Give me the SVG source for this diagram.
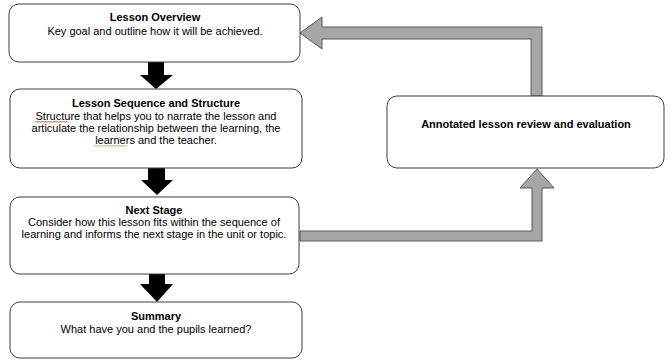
<svg xmlns="http://www.w3.org/2000/svg" width="672" height="360" viewBox="0 0 672 360">
<style>
.box{fill:#fff;stroke:#3f3f3f;stroke-width:1}
.t{font-family:"Liberation Sans",Arial,sans-serif;font-size:11px;fill:#000;text-anchor:middle}
.b{font-weight:bold}
.blk{fill:#000}
.gry{fill:#a6a6a6;stroke:#595959;stroke-width:1}
.sq{fill:none;stroke-width:0.9}
</style>
<rect width="672" height="360" fill="#fff"/>
<g id="connectors">
<path class="blk" d="M148 62H164V75H173L156 89L140 75H148Z"/>
<path class="blk" d="M148 168H165V180H173L157 195L141 180H148Z"/>
<path class="blk" d="M149 274H165V284H173L157 302L140 284H149Z"/>
<path class="gry" d="M531 96V39H322V49L300 33L322 17V27H542V96Z"/>
<path class="gry" d="M300 231H532V188H520L537 169L554 188H542V241H300Z"/>
</g>
<g id="lesson-overview">
<rect class="box" x="9" y="4" width="291" height="58" rx="10"/>
<text class="t b" x="155" y="21">Lesson Overview</text>
<text class="t" x="155" y="35">Key goal and outline how it will be achieved.</text>
</g>
<g id="lesson-sequence">
<rect class="box" x="10" y="89" width="292" height="79" rx="10"/>
<text class="t b" x="156" y="107">Lesson Sequence and Structure</text>
<text class="t" x="156" y="120">Structure that helps you to narrate the lesson and</text>
<text class="t" x="156" y="132">articulate the relationship between the learning, the</text>
<text class="t" x="156" y="144">learners and the teacher.</text>
<path class="sq" stroke="#d9342b" d="M35 122.5l1.5-1.5 1.5 1.5 1.5-1.5 1.5 1.5 1.5-1.5 1.5 1.5 1.5-1.5 1.5 1.5 1.5-1.5 1.5 1.5 1.5-1.5 1.5 1.5 1.5-1.5 1.5 1.5 1.5-1.5 1.5 1.5 1.5-1.5 1.5 1.5 1.5-1.5 1.5 1.5 1.5-1.5 1.5 1.5"/>
<path class="sq" stroke="#c0a040" d="M94 146.5l1.5-1.5 1.5 1.5 1.5-1.5 1.5 1.5 1.5-1.5 1.5 1.5 1.5-1.5 1.5 1.5 1.5-1.5 1.5 1.5 1.5-1.5 1.5 1.5 1.5-1.5 1.5 1.5 1.5-1.5 1.5 1.5 1.5-1.5 1.5 1.5 1.5-1.5 1.5 1.5 1.5-1.5 1.5 1.5"/>
</g>
<g id="next-stage">
<rect class="box" x="10" y="197" width="289" height="77" rx="10"/>
<text class="t b" x="154" y="214">Next Stage</text>
<text class="t" x="154" y="226">Consider how this lesson fits within the sequence of</text>
<text class="t" x="154" y="238">learning and informs the next stage in the unit or topic.</text>
</g>
<g id="summary">
<rect class="box" x="10" y="302" width="292" height="56" rx="10"/>
<text class="t b" x="156" y="320">Summary</text>
<text class="t" x="156" y="333">What have you and the pupils learned?</text>
</g>
<g id="annotated-review">
<rect class="box" x="387" y="96" width="277" height="72" rx="10"/>
<text class="t b" x="526" y="128">Annotated lesson review and evaluation</text>
</g>
</svg>
